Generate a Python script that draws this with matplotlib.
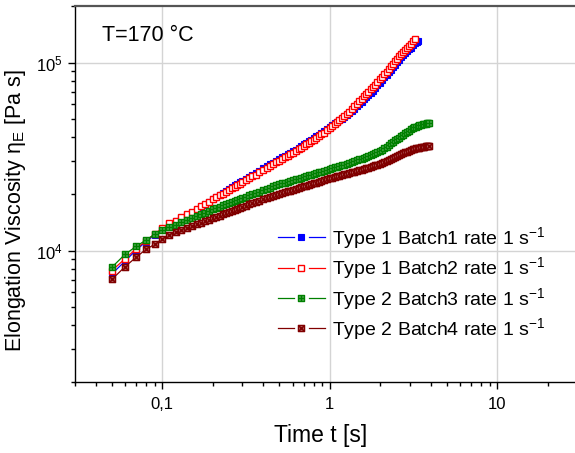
import matplotlib
matplotlib.use("Agg")
import matplotlib.pyplot as plt
from matplotlib.path import Path
from matplotlib.lines import Line2D
from matplotlib.legend_handler import HandlerLine2D
from matplotlib.ticker import FixedLocator, FuncFormatter, LogLocator, NullFormatter

plt.rcParams['font.family'] = ['Liberation Sans', 'DejaVu Sans']
plt.rcParams['mathtext.fontset'] = 'custom'
plt.rcParams['mathtext.rm'] = 'Liberation Sans'
plt.rcParams['mathtext.it'] = 'Liberation Sans'

# ---------------- data ----------------
t_base = [0.05, 0.06, 0.07, 0.08, 0.09, 0.10, 0.11, 0.12, 0.13, 0.14,
          0.15, 0.16, 0.17, 0.18, 0.19, 0.20, 0.21, 0.22, 0.23, 0.24,
          0.25, 0.26, 0.27, 0.28, 0.29, 0.30, 0.315, 0.33, 0.345, 0.36,
          0.38, 0.40, 0.42, 0.44, 0.46, 0.48, 0.50, 0.52, 0.54, 0.56,
          0.58, 0.60, 0.625, 0.65, 0.675, 0.70, 0.725, 0.75, 0.775, 0.80,
          0.83, 0.86, 0.89, 0.92, 0.96, 1.00, 1.035, 1.07, 1.105, 1.14,
          1.18, 1.22, 1.26, 1.30, 1.35, 1.40, 1.45, 1.50, 1.55, 1.60,
          1.65, 1.70, 1.75, 1.80, 1.86, 1.92, 1.985, 2.05, 2.115, 2.18,
          2.25, 2.32, 2.39, 2.46, 2.53, 2.60, 2.675, 2.75, 2.825, 2.90,
          2.975, 3.05]
t_batch1 = t_base + [3.15, 3.23, 3.30, 3.37]
t_batch2 = t_base + [3.15, 3.23]
t_batch34_tail = [3.125, 3.20, 3.275, 3.35, 3.425, 3.50, 3.575, 3.65, 3.725, 3.80, 3.86, 3.92]
t_batch3 = t_base + t_batch34_tail
t_batch4 = t_base + t_batch34_tail

eta_batch1 = [7520, 8810, 10090, 11170, 12110, 13000, 13840, 14290, 14890, 15490,
              15920, 16480, 17020, 17580, 18160, 18710, 19250, 19800, 20300, 20800,
              21280, 21750, 22200, 22650, 23090, 23530, 24120, 24720, 25290, 25870,
              26600, 27330, 28020, 28710, 29380, 30050, 30680, 31320, 31930, 32550,
              33140, 33740, 34480, 35230, 35960, 36700, 37420, 38140, 38870, 39600,
              40480, 41360, 42240, 43130, 44310, 45510, 46490, 47470, 48350, 49240,
              50250, 51280, 52430, 53590, 55230, 56890, 58580, 60280, 61960, 63660,
              65440, 67230, 69040, 70860, 73170, 75500, 78060, 80630, 83260, 85900,
              88790, 91690, 94590, 97500, 100400, 103300, 106350, 109400, 112250, 115100,
              117520, 119950, 123600, 126500, 128200, 129400]
eta_batch2 = [7830, 9060, 10250, 11300, 12250, 13160, 13990, 14450, 15060, 15680,
              16110, 16660, 17190, 17710, 18210, 18710, 19180, 19660, 20110, 20570,
              21000, 21440, 21860, 22280, 22690, 23100, 23680, 24270, 24830, 25390,
              26110, 26830, 27500, 28180, 28830, 29490, 30110, 30740, 31340, 31950,
              32540, 33130, 33860, 34590, 35310, 36030, 36740, 37450, 38160, 38880,
              39740, 40610, 41480, 42350, 43520, 44690, 45800, 46920, 48080, 49240,
              50610, 51990, 53410, 54840, 56660, 58480, 60360, 62250, 64150, 66060,
              68000, 69940, 71900, 73860, 76270, 78680, 81350, 84030, 86780, 89530,
              92540, 95560, 98580, 101600, 104650, 107700, 110850, 114000, 117000, 120000,
              122950, 125900, 129700, 132700]
eta_batch3 = [8165, 9570, 10550, 11400, 12220, 12890, 13320, 13750, 14270, 14560,
              14930, 15280, 15620, 15940, 16250, 16560, 16850, 17140, 17410, 17680,
              17940, 18200, 18450, 18690, 18870, 19050, 19360, 19660, 19950, 20240,
              20600, 20950, 21290, 21620, 21940, 22260, 22510, 22750, 22980, 23200,
              23420, 23640, 23900, 24150, 24400, 24640, 24880, 25110, 25330, 25550,
              25800, 26050, 26290, 26530, 26880, 27230, 27470, 27710, 27940, 28170,
              28420, 28680, 28950, 29230, 29570, 29920, 30230, 30550, 30870, 31190,
              31510, 31840, 32170, 32510, 32920, 33340, 33850, 34360, 35040, 35730,
              36440, 37150, 37850, 38550, 39220, 39900, 40650, 41400, 42120, 42850,
              43500, 44160, 44700, 45190, 45620, 46030, 46360, 46670, 46950, 47210,
              47380, 47530, 47700, 47860]
eta_batch4 = [7040, 8220, 9250, 10160, 10810, 11510, 12080, 12530, 12880, 13210,
              13520, 13810, 14090, 14360, 14620, 14860, 15110, 15350, 15580, 15810,
              16030, 16250, 16460, 16660, 16860, 17060, 17330, 17590, 17840, 18090,
              18400, 18710, 19000, 19290, 19570, 19840, 20050, 20270, 20470, 20680,
              20870, 21070, 21300, 21530, 21740, 21960, 22170, 22380, 22570, 22770,
              22990, 23220, 23430, 23640, 23950, 24270, 24460, 24660, 24840, 25030,
              25230, 25430, 25620, 25810, 26030, 26260, 26480, 26700, 26900, 27100,
              27350, 27600, 27840, 28080, 28350, 28630, 28950, 29270, 29640, 30010,
              30400, 30790, 31160, 31540, 31890, 32250, 32590, 32940, 33260, 33590,
              33900, 34220, 34500, 34770, 34970, 35160, 35300, 35430, 35570, 35700,
              35840, 35970, 36020, 36060]

labels = ["Type 1 Batch1 rate 1 s$^{-1}$", "Type 1 Batch2 rate 1 s$^{-1}$",
          "Type 2 Batch3 rate 1 s$^{-1}$", "Type 2 Batch4 rate 1 s$^{-1}$"]
x_ticks = [0.1, 1, 10]
x_ticklabels = ["0,1", "1", "10"]
y_ticks = [1e4, 1e5]
y_ticklabels = ["10$^4$", "10$^5$"]

# ---------------- markers ----------------
M, L, C = Path.MOVETO, Path.LINETO, Path.CLOSEPOLY
sq_plus = Path([(-1, -1), (1, -1), (1, 1), (-1, 1), (-1, -1), (0, -1), (0, 1), (-1, 0), (1, 0)],
               [M, L, L, L, C, M, L, M, L])
sq_x = Path([(-1, -1), (1, -1), (1, 1), (-1, 1), (-1, -1), (-1, -1), (1, 1), (-1, 1), (1, -1)],
            [M, L, L, L, C, M, L, M, L])


class GapLineHandler(HandlerLine2D):
    """Legend handle drawn as: line - marker - line (with small gaps)."""
    def create_artists(self, legend, orig_handle, xdescent, ydescent, width, height,
                       fontsize, trans):
        y = (height - ydescent) / 2.0
        x0 = -xdescent
        gap = 0.34 * width
        l1 = Line2D([x0, x0 + gap], [y, y])
        l2 = Line2D([x0 + width - gap, x0 + width], [y, y])
        for ln in (l1, l2):
            ln.set_color(orig_handle.get_color())
            ln.set_linewidth(orig_handle.get_linewidth())
            ln.set_transform(trans)
        mk = Line2D([x0 + width / 2.0], [y], linestyle='none',
                    marker=orig_handle.get_marker(),
                    markersize=orig_handle.get_markersize(),
                    markerfacecolor=orig_handle.get_markerfacecolor(),
                    markeredgecolor=orig_handle.get_markeredgecolor(),
                    markeredgewidth=orig_handle.get_markeredgewidth())
        mk.set_transform(trans)
        return [l1, l2, mk]


fig = plt.figure(figsize=(5.75, 4.53), dpi=100)
ax = fig.add_axes([0.130, 0.1565, 0.874, 0.8305])

ms = 4.4
h1, = ax.plot(t_batch1, eta_batch1, color='#0000ff', lw=0.9, marker='s', ms=ms,
              mfc='#0000ff', mec='#0000ff', mew=0.8, label=labels[0])
h2, = ax.plot(t_batch2, eta_batch2, color='#ff0000', lw=0.9, marker='s', ms=ms,
              mfc='white', mec='#ff0000', mew=1.0, label=labels[1])
h3, = ax.plot(t_batch3, eta_batch3, color='#008000', lw=0.9, marker=sq_plus, ms=ms,
              mfc='#55aa55', mec='#008000', mew=1.0, label=labels[2])
h4, = ax.plot(t_batch4, eta_batch4, color='#800000', lw=0.9, marker=sq_x, ms=ms,
              mfc='#b06060', mec='#800000', mew=1.0, label=labels[3])

ax.set_xscale('log')
ax.set_yscale('log')
ax.set_xlim(0.03, 30)
ax.set_ylim(2000, 200000)

ax.xaxis.set_major_locator(FixedLocator(x_ticks))
ax.xaxis.set_major_formatter(FuncFormatter(lambda v, p: x_ticklabels[x_ticks.index(v)] if v in x_ticks else ""))
ax.xaxis.set_minor_locator(LogLocator(base=10, subs=range(2, 10), numticks=20))
ax.xaxis.set_minor_formatter(NullFormatter())
ax.yaxis.set_major_locator(FixedLocator(y_ticks))
ax.yaxis.set_major_formatter(FuncFormatter(lambda v, p: y_ticklabels[y_ticks.index(v)] if v in y_ticks else ""))
ax.yaxis.set_minor_locator(LogLocator(base=10, subs=range(2, 10), numticks=20))
ax.yaxis.set_minor_formatter(NullFormatter())

ax.tick_params(which='major', direction='out', length=5, width=1, labelsize=12, colors='black')
ax.tick_params(which='minor', direction='out', length=3, width=1)
ax.tick_params(axis='x', pad=6)

ax.grid(True, which='major', color='#d4d4d4', lw=1.0)
ax.set_axisbelow(True)

for s in ['left', 'bottom']:
    ax.spines[s].set_color('black')
    ax.spines[s].set_linewidth(1.0)
ax.spines['top'].set_color('#555555')
ax.spines['top'].set_linewidth(1.6)
ax.spines['right'].set_visible(False)

ax.set_xlabel("Time t [s]", fontsize=16.5)
ax.xaxis.set_label_coords(0.49, -0.112)
ax.set_ylabel("Elongation Viscosity η$_\\mathregular{E}$ [Pa s]", fontsize=15.5)
ax.yaxis.set_label_coords(-0.094, 0.455)

ax.text(0.0537, 0.92, "T=170 °C", transform=ax.transAxes, fontsize=15.5,
        ha='left', va='center')

leg = ax.legend(handles=[h1, h2, h3, h4], loc='center left', bbox_to_anchor=(0.4046, 0.262),
                frameon=False, fontsize=14, handlelength=2.4, handletextpad=0.35,
                labelspacing=0.23, borderpad=0, borderaxespad=0,
                handler_map={Line2D: GapLineHandler()})

fig.savefig("out.png", dpi=100)
